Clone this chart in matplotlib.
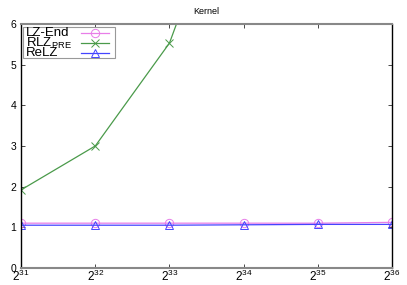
import numpy as np
import matplotlib.pyplot as plt
from matplotlib.patches import Rectangle
from matplotlib.lines import Line2D

plt.rcParams['font.family'] = ['Liberation Sans', 'DejaVu Sans']
plt.rcParams['mathtext.fontset'] = 'custom'
plt.rcParams['mathtext.rm'] = 'Liberation Sans'
plt.rcParams['mathtext.it'] = 'Liberation Sans'

sizes = [2**31, 2**32, 2**33, 2**34, 2**35, 2**36]
lzend = [1.10, 1.10, 1.10, 1.10, 1.10, 1.12]
rlz_sizes = [2**31, 2**32, 2**33, 2**34]
rlz = [1.92, 3.00, 5.53, 10.5]
relz = [1.05, 1.05, 1.05, 1.06, 1.07, 1.07]
xticklabels = [r'$\mathrm{2^{31}}$', r'$\mathrm{2^{32}}$', r'$\mathrm{2^{33}}$',
               r'$\mathrm{2^{34}}$', r'$\mathrm{2^{35}}$', r'$\mathrm{2^{36}}$']

fig = plt.figure(figsize=(4.07, 2.85), dpi=100)
ax = fig.add_axes([0.052, 0.06, 0.911, 0.856])

styles = [
    ('LZ-End', '#e87ee8', 'o', 6),
    (r'RLZ$_{\mathrm{PRE}}$', '#4a9a4a', 'x', 6),
    ('ReLZ', '#4444ff', '^', 6),
]

ax.plot(sizes, lzend, color=styles[0][1], marker='o', markersize=6, markerfacecolor='none',
        markeredgewidth=0.7, linewidth=0.9)
ax.plot(rlz_sizes, rlz, color=styles[1][1], marker='x', markersize=6,
        markeredgewidth=0.7, linewidth=0.9)
ax.plot(sizes, relz, color=styles[2][1], marker='^', markersize=6, markerfacecolor='none',
        markeredgewidth=0.7, linewidth=0.9)

ax.set_xscale('log', base=2)
ax.set_xlim(2**31, 2**36)
ax.set_ylim(0, 6)
ax.set_xticks(sizes)
ax.set_xticklabels(xticklabels)
ax.set_xticks([], minor=True)
ax.set_yticks([0, 1, 2, 3, 4, 5, 6])
ax.tick_params(labelsize=7.5, length=3, width=0.5, direction='in', top=True, right=True)
ax.tick_params(axis='x', pad=1, labelsize=8.5)

for side in ['top', 'bottom']:
    ax.spines[side].set_color('#888888')
    ax.spines[side].set_linewidth(1.5)
for side in ['left', 'right']:
    ax.spines[side].set_color('black')
    ax.spines[side].set_linewidth(1.0)

ax.set_title('Kernel', fontsize=6.5, pad=7)

# gnuplot-style key: labels on the left, samples on the right
ax.add_patch(Rectangle((0.004, 0.861), 0.249, 0.127, transform=ax.transAxes,
                       facecolor='white', edgecolor='#999999', linewidth=0.8, zorder=5))
rows = [0.962, 0.922, 0.882]
for (label, color, marker, ms), yy in zip(styles, rows):
    ax.text(0.013, yy, label, transform=ax.transAxes, fontsize=9.5, va='center',
            ha='left', zorder=6)
    ax.add_line(Line2D([0.162, 0.237], [yy, yy], transform=ax.transAxes, color=color,
                       linewidth=0.9, zorder=6))
    ax.add_line(Line2D([0.199], [yy], transform=ax.transAxes, color=color, marker=marker,
                       markersize=ms, markerfacecolor='none', markeredgewidth=0.7, zorder=6))

plt.savefig('out.png', dpi=100)
